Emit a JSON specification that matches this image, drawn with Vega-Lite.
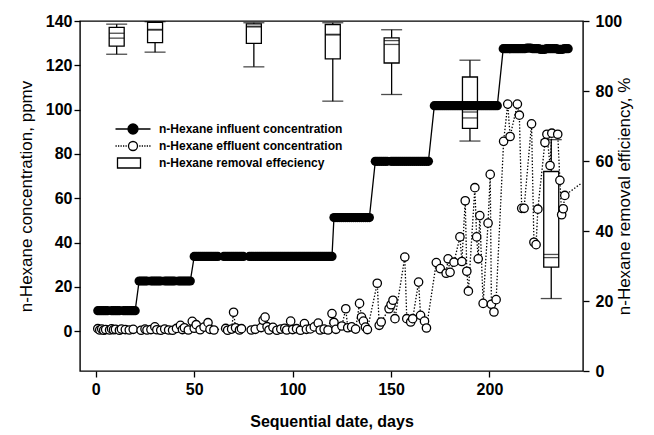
{
  "$schema": "https://vega.github.io/schema/vega-lite/v6.json",
  "width": 503,
  "height": 350,
  "autosize": {"type": "none"},
  "padding": {"left": 80, "top": 21, "right": 71, "bottom": 64},
  "background": "white",
  "config": {
    "view": {"stroke": "black", "strokeWidth": 1.4},
    "font": "Liberation Sans",
    "axis": {
      "domain": false, "grid": false, "tickColor": "black", "tickSize": 6, "tickWidth": 1.3,
      "labelFont": "Liberation Sans", "labelFontWeight": "bold", "labelFontSize": 16, "labelColor": "black",
      "titleFont": "Liberation Sans", "titleColor": "black", "titleFontSize": 17, "titleFontWeight": "normal"
    },
    "axisBottom": {"titleFontWeight": "bold", "titleFontSize": 16, "labelPadding": 4, "titlePadding": 16},
    "axisLeft": {"labelPadding": 2, "titlePadding": 10},
    "axisRight": {"labelPadding": 6, "titlePadding": 12, "titleAngle": 270},
    "legend": {
      "orient": "none", "legendX": 47, "legendY": 102, "title": null,
      "symbolSize": 100, "symbolStrokeColor": "black", "symbolStrokeWidth": 1.3, "symbolOpacity": 1,
      "labelFont": "Liberation Sans", "labelFontSize": 12, "labelFontWeight": "bold", "labelColor": "black",
      "labelOffset": 20, "rowPadding": 1, "labelLimit": 0
    }
  },
  "datasets": {
    "boxes": [
      {"day": 10.6, "lo": 90.5, "q1": 92.8, "med": 96.5, "mean": 95.1, "q3": 98.2, "hi": 99.1},
      {"day": 30.1, "lo": 91.1, "q1": 93.8, "med": 97.6, "mean": 97.4, "q3": 99.6, "hi": 99.8},
      {"day": 80.3, "lo": 86.9, "q1": 93.6, "med": 98.5, "mean": 98.3, "q3": 99.2, "hi": 99.5},
      {"day": 120.4, "lo": 77.1, "q1": 89.2, "med": 96.2, "mean": 96.0, "q3": 99.0, "hi": 99.5},
      {"day": 150.3, "lo": 79.0, "q1": 88.0, "med": 93.3, "mean": 94.4, "q3": 95.2, "hi": 97.5},
      {"day": 190.1, "lo": 65.7, "q1": 69.3, "med": 72.3, "mean": 74.0, "q3": 84.0, "hi": 88.8},
      {"day": 231.4, "lo": 20.7, "q1": 29.7, "med": 32.4, "mean": 33.3, "q3": 57.0, "hi": 66.1}
    ],
    "legend": [
      {"series": "n-Hexane influent concentration"},
      {"series": "n-Hexane effluent concentration"},
      {"series": "n-Hexane removal effeciency"}
    ],
    "influent": [
      {"day":1,"c":9.3},{"day":2,"c":9.3},{"day":3,"c":9.3},{"day":4,"c":9.3},{"day":5,"c":9.3},{"day":6,"c":9.3},{"day":8,"c":9.3},{"day":9,"c":9.3},{"day":10,"c":9.3},{"day":11,"c":9.3},{"day":12,"c":9.3},{"day":14,"c":9.3},{"day":15,"c":9.3},{"day":16,"c":9.3},{"day":17,"c":9.3},{"day":18,"c":9.3},{"day":19,"c":9.3},{"day":20,"c":9.3},
      {"day":22,"c":22.7},{"day":23,"c":22.7},{"day":24,"c":22.7},{"day":25,"c":22.7},{"day":26,"c":22.7},{"day":28,"c":22.7},{"day":29,"c":22.7},{"day":30,"c":22.7},{"day":31,"c":22.7},{"day":32,"c":22.7},{"day":33,"c":22.7},{"day":35,"c":22.7},{"day":36,"c":22.7},{"day":37,"c":22.7},{"day":38,"c":22.7},{"day":39,"c":22.7},{"day":40,"c":22.7},{"day":42,"c":22.7},{"day":43,"c":22.7},{"day":44,"c":22.7},{"day":45,"c":22.7},{"day":46,"c":22.7},{"day":47,"c":22.7},{"day":48,"c":22.7},
      {"day":50,"c":33.8},{"day":51,"c":33.8},{"day":52,"c":33.8},{"day":53,"c":33.8},{"day":54,"c":33.8},{"day":55,"c":33.8},{"day":56,"c":33.8},{"day":57,"c":33.8},{"day":58,"c":33.8},{"day":59,"c":33.8},{"day":60,"c":33.8},{"day":61,"c":33.8},{"day":62,"c":33.8},{"day":65,"c":33.8},{"day":66,"c":33.8},{"day":67,"c":33.8},{"day":68,"c":33.8},{"day":69,"c":33.8},{"day":70,"c":33.8},{"day":71,"c":33.8},{"day":72,"c":33.8},{"day":73,"c":33.8},{"day":74,"c":33.8},{"day":75,"c":33.8},{"day":78,"c":33.8},{"day":79,"c":33.8},{"day":80,"c":33.8},{"day":81,"c":33.8},{"day":82,"c":33.8},{"day":83,"c":33.8},{"day":84,"c":33.8},{"day":85,"c":33.8},{"day":86,"c":33.8},{"day":87,"c":33.8},{"day":88,"c":33.8},{"day":89,"c":33.8},{"day":90,"c":33.8},{"day":91,"c":33.8},{"day":92,"c":33.8},{"day":93,"c":33.8},{"day":94,"c":33.8},{"day":95,"c":33.8},{"day":96,"c":33.8},{"day":97,"c":33.8},{"day":98,"c":33.8},{"day":99,"c":33.8},{"day":100,"c":33.8},{"day":101,"c":33.8},{"day":102,"c":33.8},{"day":103,"c":33.8},{"day":104,"c":33.8},{"day":105,"c":33.8},{"day":106,"c":33.8},{"day":107,"c":33.8},{"day":108,"c":33.8},{"day":109,"c":33.8},{"day":110,"c":33.8},{"day":111,"c":33.8},{"day":112,"c":33.8},{"day":113,"c":33.8},{"day":114,"c":33.8},{"day":115,"c":33.8},{"day":116,"c":33.8},{"day":117,"c":33.8},{"day":118,"c":33.8},{"day":119,"c":33.8},{"day":120,"c":33.8},
      {"day":121,"c":51.3},{"day":122,"c":51.3},{"day":123,"c":51.3},{"day":124,"c":51.3},{"day":125,"c":51.3},{"day":126,"c":51.3},{"day":127,"c":51.3},{"day":128,"c":51.3},{"day":129,"c":51.3},{"day":130,"c":51.3},{"day":131,"c":51.3},{"day":132,"c":51.3},{"day":133,"c":51.3},{"day":134,"c":51.3},{"day":135,"c":51.3},{"day":136,"c":51.3},{"day":137,"c":51.3},{"day":138,"c":51.3},{"day":139,"c":51.3},
      {"day":142,"c":76.7},{"day":143,"c":76.7},{"day":144,"c":76.7},{"day":145,"c":76.7},{"day":146,"c":76.7},{"day":147,"c":76.7},{"day":148,"c":76.7},{"day":150,"c":76.7},{"day":151,"c":76.7},{"day":152,"c":76.7},{"day":153,"c":76.7},{"day":154,"c":76.7},{"day":155,"c":76.7},{"day":156,"c":76.7},{"day":157,"c":76.7},{"day":158,"c":76.7},{"day":159,"c":76.7},{"day":160,"c":76.7},{"day":161,"c":76.7},{"day":162,"c":76.7},{"day":163,"c":76.7},{"day":164,"c":76.7},{"day":165,"c":76.7},{"day":166,"c":76.7},{"day":167,"c":76.7},{"day":168,"c":76.7},{"day":169,"c":76.7},
      {"day":172,"c":101.8},{"day":173,"c":101.8},{"day":174,"c":101.8},{"day":175,"c":101.8},{"day":176,"c":101.8},{"day":177,"c":101.8},{"day":178,"c":101.8},{"day":179,"c":101.8},{"day":180,"c":101.8},{"day":181,"c":101.8},{"day":182,"c":101.8},{"day":183,"c":101.8},{"day":184,"c":101.8},{"day":185,"c":101.8},{"day":186,"c":101.8},{"day":187,"c":101.8},{"day":188,"c":101.8},{"day":189,"c":101.8},{"day":190,"c":101.8},{"day":191,"c":101.8},{"day":192,"c":101.8},{"day":193,"c":101.8},{"day":194,"c":101.8},{"day":195,"c":101.8},{"day":196,"c":101.8},{"day":197,"c":101.8},{"day":198,"c":101.8},{"day":199,"c":101.8},{"day":200,"c":101.8},{"day":201,"c":101.8},{"day":202,"c":101.8},{"day":203,"c":101.8},{"day":204,"c":101.8},
      {"day":207,"c":127.5},{"day":208,"c":127.5},{"day":209,"c":127.5},{"day":210,"c":127.5},{"day":211,"c":127.5},{"day":212,"c":127.5},{"day":213,"c":127.5},{"day":214,"c":127.5},{"day":215,"c":127.5},{"day":216,"c":127.5},{"day":217,"c":127.5},{"day":218,"c":127.5},{"day":219,"c":127.8},{"day":220,"c":127.8},{"day":221,"c":127.8},{"day":222,"c":127.5},{"day":223,"c":127.5},{"day":224,"c":127.5},{"day":225,"c":127.5},{"day":226,"c":127.2},{"day":227,"c":127.2},{"day":228,"c":127.2},{"day":229,"c":127.5},{"day":230,"c":127.5},{"day":231,"c":127.5},{"day":232,"c":127.5},{"day":233,"c":127.5},{"day":234,"c":127.5},{"day":235,"c":127.2},{"day":236,"c":127.2},{"day":237,"c":127.2},{"day":238,"c":127.5},{"day":239,"c":127.5},{"day":240,"c":127.5}
    ],
    "effluent": [
      {"day":1,"c":1.2},{"day":2,"c":0.6},{"day":3,"c":1.0},{"day":4,"c":0.5},{"day":5,"c":0.8},{"day":7,"c":0.6},{"day":8,"c":1.1},{"day":9,"c":0.7},{"day":10,"c":0.9},{"day":12,"c":0.5},{"day":13,"c":1.0},{"day":15,"c":0.8},{"day":17,"c":0.6},{"day":19,"c":0.9},
      {"day":23,"c":0.5},{"day":25,"c":1.0},{"day":26,"c":0.6},{"day":28,"c":0.8},{"day":30,"c":2.0},{"day":31,"c":0.7},{"day":33,"c":0.5},{"day":35,"c":1.0},{"day":37,"c":0.6},{"day":39,"c":0.5},{"day":41,"c":1.3},{"day":43,"c":2.7},{"day":44,"c":0.8},{"day":45,"c":1.6},{"day":47,"c":0.6},
      {"day":49,"c":4.5},{"day":50,"c":1.4},{"day":51,"c":3.0},{"day":53,"c":0.7},{"day":55,"c":1.9},{"day":57,"c":3.9},{"day":58,"c":0.9},{"day":60,"c":0.6},{"day":66,"c":1.3},{"day":67,"c":0.5},{"day":69,"c":1.0},{"day":70,"c":8.6},{"day":71,"c":1.6},{"day":73,"c":0.6},{"day":74,"c":1.2},{"day":79,"c":0.6},{"day":81,"c":0.9},{"day":84,"c":1.7},{"day":85,"c":5.0},{"day":86,"c":6.4},{"day":87,"c":2.1},{"day":88,"c":0.6},{"day":90,"c":1.8},{"day":92,"c":0.5},{"day":94,"c":1.0},{"day":96,"c":1.4},{"day":97,"c":0.6},{"day":99,"c":4.6},{"day":100,"c":0.8},{"day":102,"c":1.2},{"day":104,"c":0.5},{"day":106,"c":3.5},{"day":107,"c":0.9},{"day":109,"c":1.1},{"day":111,"c":2.0},{"day":113,"c":3.7},{"day":114,"c":0.6},{"day":116,"c":1.0},{"day":118,"c":0.6},
      {"day":120,"c":8.0},{"day":121,"c":4.0},{"day":122,"c":0.9},{"day":125,"c":2.4},{"day":127,"c":10.2},{"day":128,"c":1.6},{"day":130,"c":2.0},{"day":132,"c":1.0},{"day":134,"c":12.6},{"day":135,"c":6.4},{"day":136,"c":4.6},{"day":137,"c":1.9},{"day":138,"c":0.8},
      {"day":143,"c":21.7},{"day":144,"c":2.7},{"day":145,"c":4.2},{"day":149,"c":10.2},{"day":150,"c":12.0},{"day":151,"c":14.0},{"day":152,"c":5.7},{"day":157,"c":33.5},{"day":158,"c":5.7},{"day":160,"c":4.2},{"day":161,"c":5.7},{"day":164,"c":22.2},{"day":165,"c":7.2},{"day":167,"c":4.6},{"day":168,"c":1.5},
      {"day":173,"c":31.0},{"day":175,"c":28.3},{"day":178,"c":26.2},{"day":179,"c":32.7},{"day":180,"c":26.6},{"day":182,"c":31.2},{"day":185,"c":42.6},{"day":186,"c":31.5},{"day":187.7,"c":58.9},{"day":188.5,"c":27.1},{"day":189.3,"c":18.1},{"day":192.6,"c":64.8},{"day":193.5,"c":42.6},{"day":194.3,"c":32.7},{"day":195.1,"c":52.2},{"day":196.8,"c":12.6},{"day":199.3,"c":48.8},{"day":200.4,"c":70.8},{"day":201,"c":12.2},{"day":202.3,"c":8.7},{"day":203.4,"c":14.3},
      {"day":207.2,"c":85.7},{"day":209.3,"c":102.5},{"day":210.5,"c":87.9},{"day":214.2,"c":102.5},{"day":215.2,"c":97.5},{"day":216.4,"c":55.5},{"day":217.6,"c":55.5},{"day":221.4,"c":93.6},{"day":222.6,"c":40.2},{"day":223.7,"c":39.1},{"day":224.6,"c":55.1},{"day":228.2,"c":85.2},{"day":229.2,"c":88.9},{"day":230.8,"c":74.8},{"day":231.7,"c":89.4},{"day":234.7,"c":88.9},{"day":235.8,"c":68.1},{"day":236.7,"c":52.6},{"day":237.5,"c":55.3},{"day":238.3,"c":61.3},{"day":247,"c":67.0}
    ]
  },
  "layer": [
    {
      "data": {"name": "boxes"},
      "layer": [
        {
          "mark": {"type": "rule", "color": "black", "strokeWidth": 1.3},
          "encoding": {
            "x": {"field": "day", "type": "quantitative", "scale": {"domain": [-5.5, 245], "nice": false},
                  "axis": {"orient": "bottom", "values": [0, 50, 100, 150, 200], "title": "Sequential date, days"}},
            "y": {"field": "lo", "type": "quantitative", "scale": {"domain": [0, 100], "nice": false},
                  "axis": {"orient": "right", "values": [0, 20, 40, 60, 80, 100], "title": "n-Hexane removal efficiency, %"}},
            "y2": {"field": "hi"}
          }
        },
        {
          "mark": {"type": "tick", "orient": "horizontal", "color": "black", "size": 21, "thickness": 1.3},
          "encoding": {
            "x": {"field": "day", "type": "quantitative", "axis": {"orient": "bottom", "values": [0, 50, 100, 150, 200], "title": "Sequential date, days"}},
            "y": {"field": "lo", "type": "quantitative", "axis": {"orient": "right", "values": [0, 20, 40, 60, 80, 100], "title": "n-Hexane removal efficiency, %"}}
          }
        },
        {
          "mark": {"type": "tick", "orient": "horizontal", "color": "black", "size": 21, "thickness": 1.3},
          "encoding": {
            "x": {"field": "day", "type": "quantitative", "axis": {"orient": "bottom", "values": [0, 50, 100, 150, 200], "title": "Sequential date, days"}},
            "y": {"field": "hi", "type": "quantitative", "axis": {"orient": "right", "values": [0, 20, 40, 60, 80, 100], "title": "n-Hexane removal efficiency, %"}}
          }
        },
        {
          "mark": {"type": "bar", "size": 15, "fill": "white", "stroke": "black", "strokeWidth": 1.3},
          "encoding": {
            "x": {"field": "day", "type": "quantitative", "axis": {"orient": "bottom", "values": [0, 50, 100, 150, 200], "title": "Sequential date, days"}},
            "y": {"field": "q1", "type": "quantitative", "axis": {"orient": "right", "values": [0, 20, 40, 60, 80, 100], "title": "n-Hexane removal efficiency, %"}},
            "y2": {"field": "q3"}
          }
        },
        {
          "mark": {"type": "tick", "orient": "horizontal", "color": "black", "size": 15, "thickness": 1.3},
          "encoding": {
            "x": {"field": "day", "type": "quantitative", "axis": {"orient": "bottom", "values": [0, 50, 100, 150, 200], "title": "Sequential date, days"}},
            "y": {"field": "med", "type": "quantitative", "axis": {"orient": "right", "values": [0, 20, 40, 60, 80, 100], "title": "n-Hexane removal efficiency, %"}}
          }
        },
        {
          "mark": {"type": "tick", "orient": "horizontal", "color": "black", "size": 15, "thickness": 1.3},
          "encoding": {
            "x": {"field": "day", "type": "quantitative", "axis": {"orient": "bottom", "values": [0, 50, 100, 150, 200], "title": "Sequential date, days"}},
            "y": {"field": "mean", "type": "quantitative", "axis": {"orient": "right", "values": [0, 20, 40, 60, 80, 100], "title": "n-Hexane removal efficiency, %"}}
          }
        }
      ]
    },
    {
      "layer": [
        {
          "data": {"name": "influent"},
          "mark": {"type": "line", "color": "black", "strokeWidth": 1.3},
          "encoding": {
            "x": {"field": "day", "type": "quantitative", "axis": {"orient": "bottom", "values": [0, 50, 100, 150, 200], "title": "Sequential date, days"}},
            "y": {"field": "c", "type": "quantitative", "scale": {"domain": [-17.9, 140], "nice": false},
                  "axis": {"orient": "left", "values": [0, 20, 40, 60, 80, 100, 120, 140], "title": "n-Hexane concentration, ppmv"}}
          }
        },
        {
          "data": {"name": "influent"},
          "mark": {"type": "point", "filled": true, "color": "black", "size": 85, "opacity": 1},
          "encoding": {
            "x": {"field": "day", "type": "quantitative", "axis": {"orient": "bottom", "values": [0, 50, 100, 150, 200], "title": "Sequential date, days"}},
            "y": {"field": "c", "type": "quantitative", "axis": {"orient": "left", "values": [0, 20, 40, 60, 80, 100, 120, 140], "title": "n-Hexane concentration, ppmv"}}
          }
        },
        {
          "data": {"name": "effluent"},
          "mark": {"type": "line", "color": "black", "strokeWidth": 1.3, "strokeDash": [1.4, 1.8], "clip": true},
          "encoding": {
            "x": {"field": "day", "type": "quantitative", "axis": {"orient": "bottom", "values": [0, 50, 100, 150, 200], "title": "Sequential date, days"}},
            "y": {"field": "c", "type": "quantitative", "axis": {"orient": "left", "values": [0, 20, 40, 60, 80, 100, 120, 140], "title": "n-Hexane concentration, ppmv"}}
          }
        },
        {
          "data": {"name": "effluent"},
          "transform": [{"filter": "datum.day <= 245"}],
          "mark": {"type": "point", "filled": true, "fill": "white", "stroke": "black", "strokeWidth": 1.3, "size": 70, "opacity": 1},
          "encoding": {
            "x": {"field": "day", "type": "quantitative", "axis": {"orient": "bottom", "values": [0, 50, 100, 150, 200], "title": "Sequential date, days"}},
            "y": {"field": "c", "type": "quantitative", "axis": {"orient": "left", "values": [0, 20, 40, 60, 80, 100, 120, 140], "title": "n-Hexane concentration, ppmv"}}
          }
        },
        {
          "data": {"name": "legend"},
          "mark": {"type": "point", "filled": true, "opacity": 0},
          "encoding": {
            "shape": {"field": "series", "type": "nominal",
              "scale": {"domain": ["n-Hexane influent concentration", "n-Hexane effluent concentration", "n-Hexane removal effeciency"],
                        "range": ["M-3.5,0L-1,0M-1,0A1,1 0 1,0 1,0A1,1 0 1,0 -1,0M1,0L3.5,0",
                                  "M-3.5,0L-3.25,0M-3,0L-2.75,0M-2.5,0L-2.25,0M-2,0L-1.75,0M-1.5,0L-1.25,0M-0.9,0A0.9,0.9 0 1,0 0.9,0A0.9,0.9 0 1,0 -0.9,0M1.25,0L1.5,0M1.75,0L2,0M2.25,0L2.5,0M2.75,0L3,0M3.25,0L3.5,0",
                                  "M-3.1,-1L1.5,-1L1.5,1L-3.1,1Z"]},
              "legend": {"title": null, "symbolOpacity": 1, "encode": {"symbols": {"update": {"opacity": {"value": 1}}}}}},
            "fill": {"field": "series", "type": "nominal",
              "scale": {"domain": ["n-Hexane influent concentration", "n-Hexane effluent concentration", "n-Hexane removal effeciency"],
                        "range": ["black", "white", "white"]},
              "legend": {"title": null, "symbolOpacity": 1, "encode": {"symbols": {"update": {"opacity": {"value": 1}}}}}}
          }
        }
      ]
    }
  ],
  "resolve": {"scale": {"y": "independent"}}
}
